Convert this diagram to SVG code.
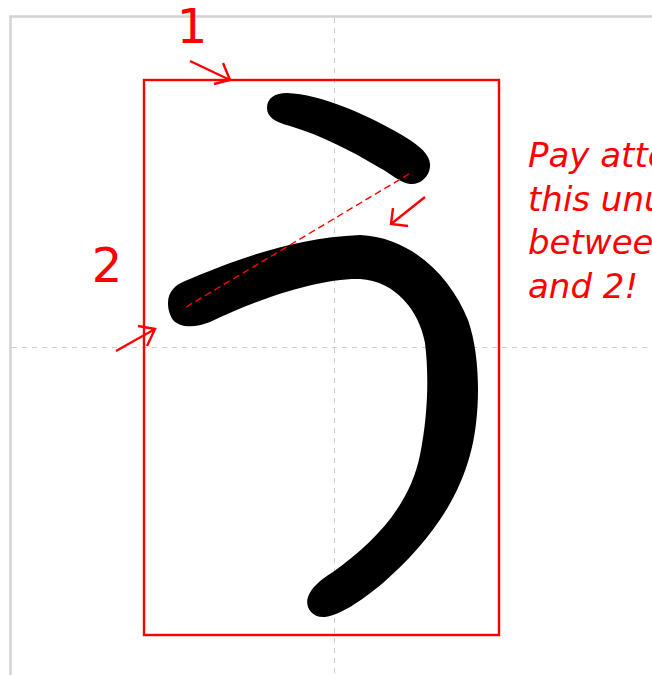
<svg xmlns="http://www.w3.org/2000/svg" width="652" height="675" viewBox="0 0 652 675">
<defs>
<style>
.frame{fill:none;stroke:#d3d3d3;stroke-width:2.5}
.guide{fill:none;stroke:#cccccc;stroke-width:1;stroke-dasharray:5,5}
.red{fill:none;stroke:#ff0000;stroke-width:2.4}
.ink{fill:#000000;stroke:none}
.num{font-family:"DejaVu Sans",sans-serif;font-size:48px;fill:#ff0000}
.note{font-family:"DejaVu Sans",sans-serif;font-style:italic;font-size:34px;fill:#ff0000}
.dash{fill:none;stroke:#ff0000;stroke-width:1.4;stroke-dasharray:7,4}
</style>
</defs>
<rect width="652" height="675" fill="#ffffff"/>
<g id="grid">
<path class="frame" d="M10.5,675 V16.5 H652"/>
<line class="guide" x1="334.5" y1="18" x2="334.5" y2="675"/>
<line class="guide" x1="12" y1="347.5" x2="652" y2="347.5"/>
</g>
<g id="box">
<rect class="red" x="144" y="80" width="355" height="555"/>
</g>
<g id="stroke1">
<path class="ink" d="M267,108 C267,98 275,93 287,93 C320,94 370,115 410,140 C425,150 431,158 430,167 C429,177 420,185 410,184 C400,183 390,173 380,168 C350,150 320,135 290,126 C275,122 267,117 267,108 Z"/>
</g>
<g id="stroke2">
<path class="ink" d="M168,303 C168,292 175,285 185,281 C230,262 290,238 360,235 C410,237 450,275 468,320 C482,360 480,420 470,455 C455,510 420,550 383,583 C360,602 340,615 325,617 C310,618 305,605 308,597 C311,588 320,580 333,572 C375,542 410,505 420,455 C428,415 429,375 425,343 C419,310 395,281 360,279 C320,278 260,298 210,322 C195,328 180,328 173,320 C169,314 168,308 168,303 Z"/>
</g>
<g id="connectors">
<line class="dash" x1="186" y1="307" x2="409" y2="174"/>
<path class="red" d="M190,61 L230,80 M223,63 L230,80 L214,84"/>
<path class="red" d="M116,351 L155,329 M138,326 L155,329 L147,346"/>
<path class="red" d="M425,197 L391,224 M393,208 L391,224 L408,226"/>
</g>
<g id="labels">
<text class="num" x="192" y="43" text-anchor="middle">1</text>
<text class="num" x="107" y="282" text-anchor="middle">2</text>
<text class="note" x="528" y="167">Pay attention to</text>
<text class="note" x="528" y="211">this unusual gap</text>
<text class="note" x="528" y="254">between 1</text>
<text class="note" x="528" y="298">and 2!</text>
</g>
</svg>
